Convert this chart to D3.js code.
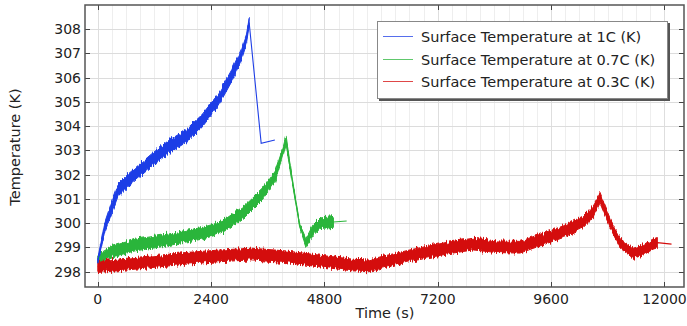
<!DOCTYPE html>
<html>
<head>
<meta charset="utf-8">
<script src="https://cdn.jsdelivr.net/npm/d3@7"></script>
<style>
  body { margin: 0; background: #fff; }
  svg { display: block; font-family: "DejaVu Sans", sans-serif; }
</style>
</head>
<body>
<svg id="chart" width="687" height="326"></svg>
<script>
// values
const xTicks = [0, 2400, 4800, 7200, 9600, 12000];
const yTicks = [298, 299, 300, 301, 302, 303, 304, 305, 306, 307, 308];

const blueTime   = [0, 150, 300, 430, 650, 860, 1140, 1500, 1850, 2200, 2550, 2840, 3050, 3150, 3205, 3460, 3750];
const blueTemp   = [298.45, 299.85, 300.68, 301.37, 301.78, 302.13, 302.6, 303.15, 303.57, 304.2, 305.08, 306.1, 307.0, 307.6, 308.28, 303.3, 303.43];
const blueSpread = [0.1, 0.2, 0.24, 0.25, 0.26, 0.26, 0.26, 0.26, 0.26, 0.26, 0.25, 0.24, 0.22, 0.2, 0.17, 0, 0];

const greenTime   = [0, 300, 790, 1490, 1740, 2200, 2450, 2700, 3120, 3490, 3760, 3930, 3985, 4140, 4280, 4410, 4560, 4710, 4990, 5270];
const greenTemp   = [298.55, 298.83, 299.1, 299.31, 299.42, 299.58, 299.72, 299.93, 300.5, 301.2, 301.95, 303.0, 303.43, 301.5, 299.86, 299.2, 299.72, 300.0, 300.05, 300.09];
const greenSpread = [0.15, 0.22, 0.24, 0.24, 0.24, 0.24, 0.24, 0.24, 0.24, 0.22, 0.2, 0.17, 0.17, 0.08, 0.08, 0.17, 0.22, 0.22, 0.22, 0];

const redTime   = [0, 430, 1140, 1850, 2550, 3260, 3960, 4670, 5380, 5730, 6000, 6680, 7390, 7950, 8450, 8940, 9370, 9860, 10280, 10490, 10635, 10850, 11060, 11340, 11550, 11760, 11850, 12150];
const redTemp   = [298.21, 298.28, 298.41, 298.55, 298.65, 298.73, 298.62, 298.45, 298.28, 298.24, 298.38, 298.69, 298.97, 299.14, 299.03, 299.01, 299.31, 299.65, 300.06, 300.5, 301.03, 300.0, 299.17, 298.76, 298.9, 299.14, 299.2, 299.14];
const redSpread = [0.24, 0.24, 0.24, 0.24, 0.24, 0.24, 0.24, 0.24, 0.24, 0.24, 0.24, 0.24, 0.24, 0.24, 0.24, 0.24, 0.24, 0.24, 0.24, 0.24, 0.2, 0.19, 0.19, 0.21, 0.21, 0.21, 0.21, 0];

const seriesNames = ["Surface Temperature at 1C (K)", "Surface Temperature at 0.7C (K)", "Surface Temperature at 0.3C (K)"];
const seriesColors = ["#1e3ee6", "#2bb53b", "#d40a0a"];

const series = [
  { name: seriesNames[0], color: seriesColors[0], pts: blueTime.map((t, i) => ({ t, v: blueTemp[i], s: blueSpread[i] })) },
  { name: seriesNames[1], color: seriesColors[1], pts: greenTime.map((t, i) => ({ t, v: greenTemp[i], s: greenSpread[i] })) },
  { name: seriesNames[2], color: seriesColors[2], pts: redTime.map((t, i) => ({ t, v: redTemp[i], s: redSpread[i] })) }
];

const svg = d3.select("#chart");
const L = 85, R = 684, T = 5, B = 287;

const x = d3.scaleLinear().domain([-271, 12414]).range([L, R]);
const y = d3.scaleLinear().domain([297.37, 309.0]).range([B, T]);

// noise texture for the measurement bands
const defs = svg.append("defs");
const f = defs.append("filter").attr("id", "rough")
  .attr("x", "-2%").attr("y", "-10%").attr("width", "104%").attr("height", "120%");
f.append("feTurbulence").attr("type", "fractalNoise").attr("baseFrequency", "0.8 0.04")
  .attr("numOctaves", 2).attr("seed", 3).attr("result", "n");
f.append("feColorMatrix").attr("in", "n").attr("type", "matrix")
  .attr("values", "0 0 0 0 0.5  0 1 0 0 0  0 0 0 0 0  0 0 0 0 1").attr("result", "m");
f.append("feDisplacementMap").attr("in", "SourceGraphic").attr("in2", "m")
  .attr("scale", 8).attr("xChannelSelector", "R").attr("yChannelSelector", "G");

defs.append("clipPath").attr("id", "clip").append("rect")
  .attr("x", L).attr("y", T).attr("width", R - L).attr("height", B - T);

// grid
const grid = svg.append("g");
grid.selectAll(".gx").data(d3.range(0, 12001, 300)).join("line")
  .attr("x1", d => Math.round(x(d)) + 0.5).attr("x2", d => Math.round(x(d)) + 0.5)
  .attr("y1", T).attr("y2", B)
  .attr("stroke", d => d % 2400 === 0 ? "#dedede" : "#eeeeee").attr("stroke-width", 1);
grid.selectAll(".gy").data(yTicks).join("line")
  .attr("x1", L).attr("x2", R)
  .attr("y1", d => Math.round(y(d)) + 0.5).attr("y2", d => Math.round(y(d)) + 0.5)
  .attr("stroke", "#dcdcdc").attr("stroke-width", 1);

// data
const plot = svg.append("g").attr("clip-path", "url(#clip)");
const band = d3.area().defined(d => d.s > 0)
  .x(d => x(d.t)).y0(d => y(d.v - d.s)).y1(d => y(d.v + d.s));
const line = d3.line().x(d => x(d.t)).y(d => y(d.v));

series.slice().reverse().forEach(s => {
  plot.append("path").datum(s.pts).attr("d", line)
    .attr("fill", "none").attr("stroke", s.color).attr("stroke-width", 1.1);
  plot.append("g").attr("filter", "url(#rough)")
    .append("path").datum(s.pts).attr("d", band)
    .attr("fill", s.color).attr("stroke", s.color).attr("stroke-width", 1);
});

// axes (ticks inside the frame)
const ax = svg.append("g").attr("font-size", 14).attr("fill", "#222");
const tickCol = "#444";
xTicks.forEach(t => {
  const px = Math.round(x(t)) + 0.5;
  ax.append("line").attr("x1", px).attr("x2", px).attr("y1", B).attr("y2", B - 5).attr("stroke", tickCol);
  ax.append("line").attr("x1", px).attr("x2", px).attr("y1", T).attr("y2", T + 5).attr("stroke", tickCol);
  ax.append("text").attr("x", x(t)).attr("y", 304).attr("text-anchor", "middle").text(t);
});
yTicks.forEach(v => {
  const py = Math.round(y(v)) + 0.5;
  ax.append("line").attr("x1", L).attr("x2", L + 5).attr("y1", py).attr("y2", py).attr("stroke", tickCol);
  ax.append("line").attr("x1", R).attr("x2", R - 5).attr("y1", py).attr("y2", py).attr("stroke", tickCol);
  ax.append("text").attr("x", 81).attr("y", y(v) + 5).attr("text-anchor", "end").text(v);
});

svg.append("rect").attr("x", L).attr("y", T).attr("width", R - L).attr("height", B - T)
  .attr("fill", "none").attr("stroke", "#555").attr("stroke-width", 1.5);

svg.append("text").attr("x", 385).attr("y", 318).attr("text-anchor", "middle")
  .attr("font-size", 14.5).attr("fill", "#222").text("Time (s)");
svg.append("text").attr("transform", "translate(20,147) rotate(-90)").attr("text-anchor", "middle")
  .attr("font-size", 14.5).attr("fill", "#222").text("Temperature (K)");

// legend
const lg = svg.append("g");
lg.append("rect").attr("x", 379).attr("y", 23).attr("width", 291).attr("height", 78).attr("fill", "#555");
lg.append("rect").attr("x", 377.5).attr("y", 21.5).attr("width", 290).attr("height", 77)
  .attr("fill", "#fff").attr("stroke", "#888");
series.forEach((s, i) => {
  const ly = [36, 59, 81][i] + 0.5;
  lg.append("line").attr("x1", 383).attr("x2", 413).attr("y1", ly).attr("y2", ly)
    .attr("stroke", s.color).attr("stroke-opacity", 0.75);
  lg.append("text").attr("x", 421).attr("y", ly + 5).attr("font-size", 14.5).attr("fill", "#222").text(s.name);
});
</script>
</body>
</html>
